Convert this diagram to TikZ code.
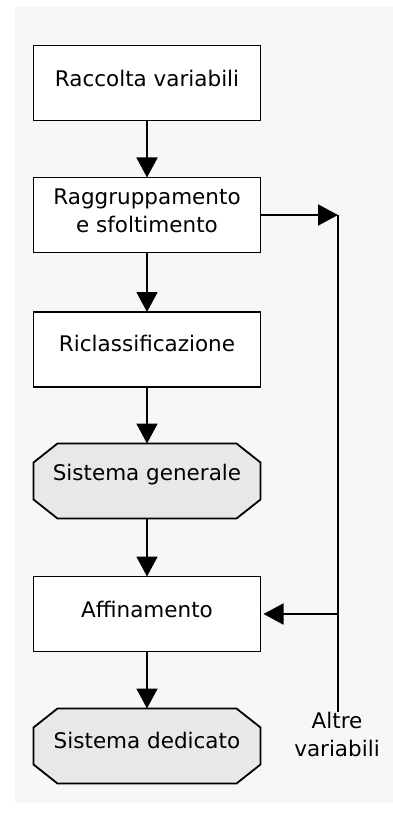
\documentclass[tikz,border=0pt]{standalone}
\usepackage{fontspec}
\setmainfont{DejaVu Sans}
\usetikzlibrary{arrows.meta,calc}
\definecolor{panel}{HTML}{F7F7F7}
\definecolor{octfill}{HTML}{E8E8E8}
\begin{document}
\begin{tikzpicture}[x=1pt,y=-1pt,
  frame/.style={minimum width=227pt,minimum height=75pt,inner sep=0pt,outer sep=0pt},
  box/.style={frame,draw,line width=1.8pt,fill=white},
  shell/.style={frame,draw=none},
  oct/.style={draw,line width=1.8pt,fill=octfill,line join=miter},
  txt/.style={inner sep=0pt,font=\fontsize{21.5}{28}\selectfont,align=center},
  conn/.style={line width=1.8pt},
  arr/.style={conn,-{Triangle[length=20pt,width=21pt]}}
]
\useasboundingbox[fill=white] (0,0) rectangle (393,813);
\fill[panel] (15,7) rectangle (393,803);

% boxes
\node[box] (b1) at (147,83) {};
\node[txt] (t1) at ([yshift=5pt]b1.center) {Raccolta variabili};
\node[box] (b2) at (147,215) {};
\node[txt] (t2) at ([yshift=4pt]b2.center) {Raggruppamento\\e sfoltimento};
\node[box] (b3) at (147,349.5) {};
\node[txt] (t3) at ([yshift=6pt]b3.center) {Riclassificazione};
\node[shell] (g) at (147,481) {};
\filldraw[oct] ([xshift=24pt]g.north west) -- ([xshift=-24pt]g.north east)
  -- ([yshift=-19pt]g.north east) -- ([yshift=19pt]g.south east)
  -- ([xshift=-24pt]g.south east) -- ([xshift=24pt]g.south west)
  -- ([yshift=19pt]g.south west) -- ([yshift=-19pt]g.north west) -- cycle;
\node[txt] (tg) at ([yshift=6pt]g.center) {Sistema generale};
\node[box] (b4) at (147,614) {};
\node[txt] (t4) at ([yshift=5pt]b4.center) {Affinamento};
\node[shell] (d) at (147,746) {};
\filldraw[oct] ([xshift=24pt]d.north west) -- ([xshift=-24pt]d.north east)
  -- ([yshift=-19pt]d.north east) -- ([yshift=19pt]d.south east)
  -- ([xshift=-24pt]d.south east) -- ([xshift=24pt]d.south west)
  -- ([yshift=19pt]d.south west) -- ([yshift=-19pt]d.north west) -- cycle;
\node[txt] (td) at ([yshift=6pt]d.center) {Sistema dedicato};

\node[txt,anchor=north] (alt) at (337,712) {Altre\\variabili};
\coordinate (top) at (338,215);
\coordinate (mid) at (338,614);

% connectors
\draw[arr] (b1.south) -- (b2.north);
\draw[arr] (b2.south) -- (b3.north);
\draw[arr] (b3.south) -- (g.north);
\draw[arr] (g.south) -- (b4.north);
\draw[arr] (b4.south) -- (d.north);
\draw[arr] (b2.east) -- (top);
\draw[conn] (top) -- (top |- alt.north);
\draw[arr] (mid) -- ([xshift=3pt]b4.east);
\end{tikzpicture}
\end{document}
